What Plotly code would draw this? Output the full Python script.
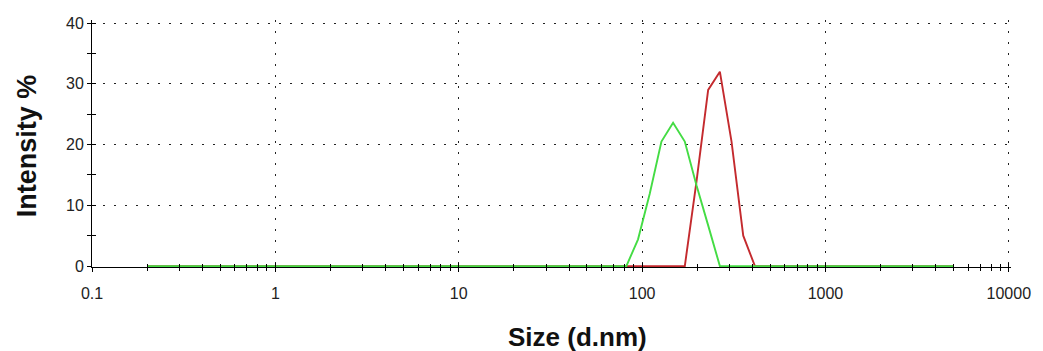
import plotly.graph_objects as go

# Size classes (d.nm) and intensity distributions for the two samples
size_nm = [0.2, 82.1, 95.05, 110.1, 127.5, 147.6, 171.0, 198.0, 229.3, 265.6, 307.5, 356.2, 412.5, 5000]
intensity_green = [0, 0, 4.4, 11.9, 20.5, 23.6, 20.5, 13.3, 6.7, 0, 0, 0, 0, 0]
intensity_red = [0, 0, 0, 0, 0, 0, 0, 13.9, 29.0, 32.0, 20.5, 5.0, 0, 0]

x_tick_vals = [0.1, 1, 10, 100, 1000, 10000]
x_tick_text = ["0.1", "1", "10", "100", "1000", "10000"]
y_tick_vals = [0, 10, 20, 30, 40]
y_minor_vals = [5, 15, 25, 35]
x_minor_vals = [d * m for d in x_tick_vals[:-1] for m in range(2, 10)]

FONT = "Liberation Sans, Arial, sans-serif"
GRID_DASH = "2px,9px"
# a little headroom past 40 / 10000 so the outermost grid lines are kept
X_RANGE = [-1, 4.012]
Y_RANGE = [-0.15, 40.5]

fig = go.Figure()
fig.add_trace(go.Scatter(x=size_nm, y=intensity_red, mode="lines",
                         line=dict(color="#c42a2e", width=1.9), hoverinfo="skip"))
fig.add_trace(go.Scatter(x=size_nm, y=intensity_green, mode="lines",
                         line=dict(color="#44dc44", width=1.9), hoverinfo="skip"))
# carrier for the overlay axes that draw the inward half of each tick
fig.add_trace(go.Scatter(x=size_nm[:1], y=intensity_green[:1], mode="lines",
                         xaxis="x2", yaxis="y2", line=dict(width=0),
                         hoverinfo="skip", showlegend=False))

fig.update_layout(
    width=1043, height=351,
    margin=dict(l=92, r=28, t=20, b=84),
    paper_bgcolor="white", plot_bgcolor="white",
    showlegend=False,
    font=dict(family=FONT, size=16, color="#222"),
    xaxis=dict(
        type="log", range=X_RANGE,
        tickmode="array", tickvals=x_tick_vals, ticktext=x_tick_text,
        ticks="outside", ticklen=4, tickcolor="black", tickwidth=1,
        minor=dict(tickmode="array", tickvals=x_minor_vals, ticks="outside",
                   ticklen=3, tickcolor="black", showgrid=False),
        showgrid=True, gridcolor="#222", gridwidth=1.4, griddash=GRID_DASH,
        showline=True, linecolor="black", linewidth=1,
        zeroline=False, layer="below traces",
        ticklabelstandoff=8,
    ),
    yaxis=dict(
        range=Y_RANGE,
        tickmode="array", tickvals=y_tick_vals,
        ticks="outside", ticklen=4, tickcolor="black", tickwidth=1,
        minor=dict(tickmode="array", tickvals=y_minor_vals, ticks="outside",
                   ticklen=4, tickcolor="black", showgrid=False),
        showgrid=True, gridcolor="#222", gridwidth=1.4, griddash=GRID_DASH,
        showline=True, linecolor="black", linewidth=1,
        zeroline=False, layer="below traces",
    ),
    xaxis2=dict(
        type="log", range=X_RANGE, overlaying="x", anchor="y2", side="bottom",
        tickmode="array", tickvals=x_tick_vals,
        ticks="inside", ticklen=4, tickcolor="black", tickwidth=1,
        minor=dict(tickmode="array", tickvals=x_minor_vals, ticks="inside",
                   ticklen=3, tickcolor="black", showgrid=False),
        showticklabels=False, showgrid=False, showline=False, zeroline=False,
    ),
    yaxis2=dict(
        range=Y_RANGE, overlaying="y", anchor="x2", side="left",
        tickmode="array", tickvals=y_tick_vals,
        ticks="inside", ticklen=4, tickcolor="black", tickwidth=1,
        minor=dict(tickmode="array", tickvals=y_minor_vals, ticks="inside",
                   ticklen=4, tickcolor="black", showgrid=False),
        showticklabels=False, showgrid=False, showline=False, zeroline=False,
    ),
    annotations=[
        dict(text="<b>Size (d.nm)</b>", xref="paper", yref="paper",
             x=0.528, y=-0.283, xanchor="center", yanchor="middle",
             showarrow=False, font=dict(size=26, color="#111")),
        dict(text="<b>Intensity %</b>", xref="paper", yref="paper",
             x=-0.0705, y=0.49, xanchor="center", yanchor="middle",
             textangle=-90, showarrow=False, font=dict(size=27, color="#111")),
    ],
)

fig.write_html("out.html")
